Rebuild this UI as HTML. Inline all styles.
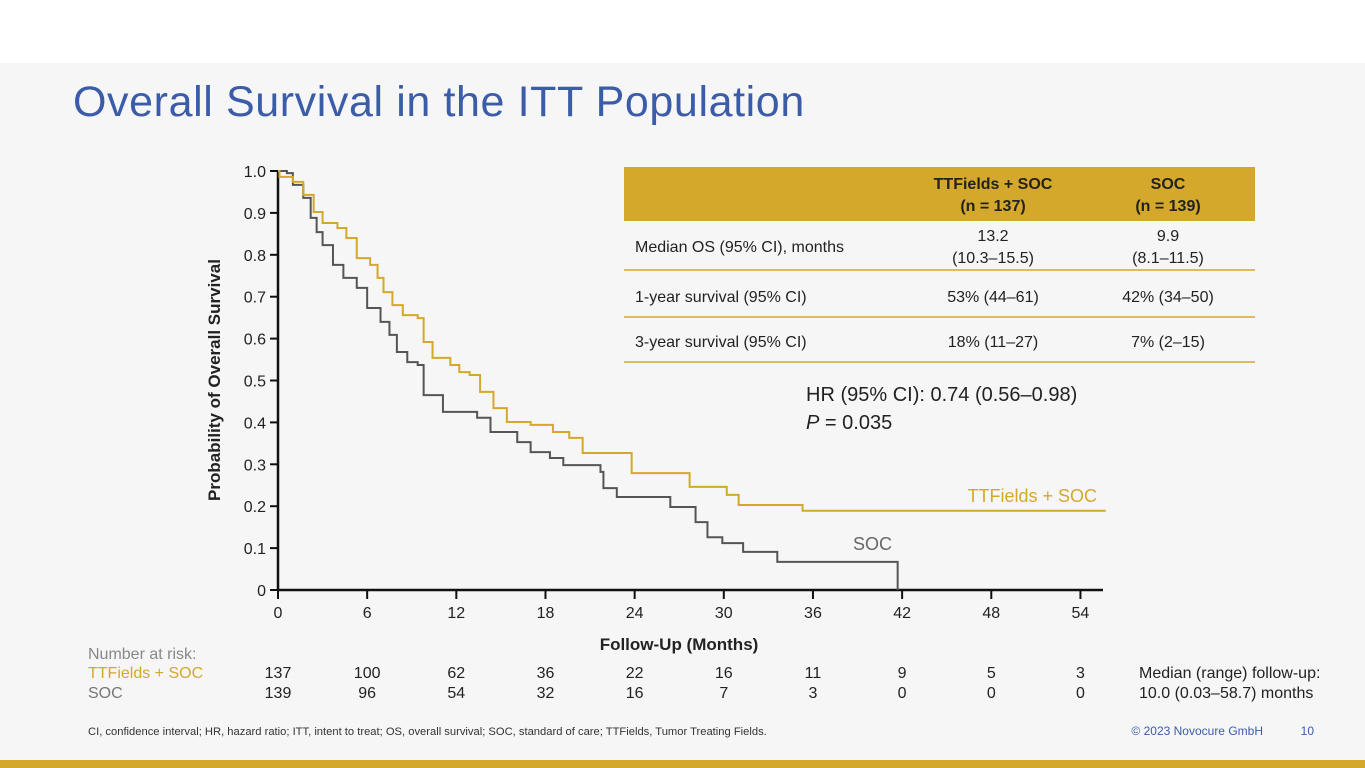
<!DOCTYPE html>
<html><head><meta charset="utf-8"><style>
body{margin:0;width:1365px;height:768px;overflow:hidden;background:#fff;font-family:"Liberation Sans",sans-serif;}
#bg{position:absolute;left:0;top:63px;width:1365px;height:697px;background:#f6f6f6;}
#bar{position:absolute;left:0;top:760px;width:1365px;height:8px;background:#d4a82a;}
h1{position:absolute;left:73px;top:78px;margin:0;font-weight:normal;font-size:43px;color:#3b5ca8;letter-spacing:0.6px;}
</style></head><body>
<div id="bg"></div>
<div id="bar"></div>
<h1>Overall Survival in the ITT Population</h1>
<svg id="chart" width="1365" height="768" style="position:absolute;left:0;top:0"></svg>
<script>
const xTicks=[0,6,12,18,24,30,36,42,48,54];
const yTicks=[0,0.1,0.2,0.3,0.4,0.5,0.6,0.7,0.8,0.9,1.0];
const yTickLabels=["0","0.1","0.2","0.3","0.4","0.5","0.6","0.7","0.8","0.9","1.0"];
const ttTimes=[0,0.1,1.0,1.7,2.4,3.0,4.0,4.6,5.3,6.2,6.7,7.1,7.7,8.4,9.4,9.8,10.4,11.6,12.2,12.9,13.6,14.5,15.4,17.0,18.5,19.6,20.5,23.8,27.7,30.2,31.0,35.3];
const ttSurv=[1.0,0.986,0.974,0.943,0.902,0.876,0.864,0.840,0.792,0.776,0.745,0.711,0.680,0.656,0.649,0.592,0.554,0.537,0.520,0.513,0.473,0.434,0.401,0.394,0.377,0.363,0.327,0.279,0.246,0.227,0.203,0.189];
const ttEnd=55.7;
const socTimes=[0,0.6,1.0,1.7,2.2,2.6,3.0,3.7,4.4,5.3,6.0,6.9,7.5,8.0,8.7,9.4,9.8,11.1,13.4,14.3,16.1,17.0,18.3,19.2,21.7,21.9,22.8,26.4,28.1,28.9,29.9,31.3,33.6,41.7];
const socSurv=[1.0,0.995,0.967,0.936,0.888,0.854,0.823,0.776,0.745,0.721,0.673,0.640,0.609,0.568,0.544,0.537,0.465,0.425,0.411,0.377,0.353,0.329,0.315,0.298,0.282,0.243,0.222,0.198,0.162,0.126,0.112,0.091,0.067,0.0];
const socEnd=41.7;
const riskTT=[137,100,62,36,22,16,11,9,5,3];
const riskSOC=[139,96,54,32,16,7,3,0,0,0];
const NS="http://www.w3.org/2000/svg";
const svg=document.getElementById('chart');
const X=m=>278+m*14.86;
const Y=p=>590-p*419;
function el(tag,attrs,text){const e=document.createElementNS(NS,tag);for(const k in attrs)e.setAttribute(k,attrs[k]);if(text!==undefined)e.textContent=text;svg.appendChild(e);return e;}
function txt(x,y,s,size,fill,anchor,name,extra){const t=el('text',Object.assign({x:x,y:y,'font-size':size,fill:fill,'text-anchor':anchor||'start','font-family':'Liberation Sans, sans-serif'},extra||{}),s);


return t;}
let a=el('line',{x1:278,y1:170,x2:278,y2:591,stroke:'#111','stroke-width':2.5});


a=el('line',{x1:277,y1:590,x2:1103,y2:590,stroke:'#111','stroke-width':2.5});


yTicks.forEach((v,i)=>{const l=el('line',{x1:270,y1:Y(v),x2:278,y2:Y(v),stroke:'#111','stroke-width':2});


txt(266,Y(v)+6,yTickLabels[i],16,'#222','end','y-tick-label');});
xTicks.forEach(v=>{const l=el('line',{x1:X(v),y1:590,x2:X(v),y2:599,stroke:'#111','stroke-width':2});


txt(X(v),618,String(v),16,'#222','middle','x-tick-label');});
txt(679,650,'Follow-Up (Months)',17,'#222','middle','x-axis-title',{'font-weight':'bold'});
txt(220,380,'Probability of Overall Survival',17,'#222','middle','y-axis-title',{'font-weight':'bold',transform:'rotate(-90 220 380)'});
function stepPath(t,s,end){let d='M'+X(t[0])+' '+Y(s[0]);for(let i=1;i<t.length;i++){d+=' H'+X(t[i])+' V'+Y(s[i]);}d+=' H'+X(end);return d;}
let p=el('path',{d:stepPath(socTimes,socSurv,socEnd),fill:'none',stroke:'#555','stroke-width':2});


p=el('path',{d:stepPath(ttTimes,ttSurv,ttEnd),fill:'none',stroke:'#d4a82a','stroke-width':2});


txt(1097,502,'TTFields + SOC',18,'#d4a82a','end','ttfields-curve-label');
txt(892,550,'SOC',18,'#666','end','soc-curve-label');
let r=el('rect',{x:624,y:167,width:631,height:54,fill:'#d4a82a'});


txt(993,189,'TTFields + SOC',16,'#222','middle','col-header-ttfields',{'font-weight':'bold'});
txt(993,211,'(n = 137)',16,'#222','middle','col-header-ttfields-n',{'font-weight':'bold'});
txt(1168,189,'SOC',16,'#222','middle','col-header-soc',{'font-weight':'bold'});
txt(1168,211,'(n = 139)',16,'#222','middle','col-header-soc-n',{'font-weight':'bold'});
[270,317,362].forEach(y=>{const l=el('line',{x1:624,y1:y,x2:1255,y2:y,stroke:'#d4a82a','stroke-width':1.5});

});
txt(635,252,'Median OS (95% CI), months',16,'#222','start','row-label-median');
txt(993,241,'13.2',16,'#222','middle','cell');txt(993,263,'(10.3–15.5)',16,'#222','middle','cell');
txt(1168,241,'9.9',16,'#222','middle','cell');txt(1168,263,'(8.1–11.5)',16,'#222','middle','cell');
txt(635,302,'1-year survival (95% CI)',16,'#222','start','row-label-1yr');
txt(993,302,'53% (44–61)',16,'#222','middle','cell');txt(1168,302,'42% (34–50)',16,'#222','middle','cell');
txt(635,347,'3-year survival (95% CI)',16,'#222','start','row-label-3yr');
txt(993,347,'18% (11–27)',16,'#222','middle','cell');txt(1168,347,'7% (2–15)',16,'#222','middle','cell');
txt(806,401,'HR (95% CI): 0.74 (0.56–0.98)',20,'#222','start','hazard-ratio');
const pv=txt(806,429,'',20,'#222','start','p-value');
const ti=document.createElementNS(NS,'tspan');ti.setAttribute('font-style','italic');ti.textContent='P';pv.appendChild(ti);
const t2=document.createElementNS(NS,'tspan');t2.textContent=' = 0.035';pv.appendChild(t2);
txt(88,659,'Number at risk:',16,'#888','start','risk-table-title');
txt(88,678,'TTFields + SOC',16,'#d4a82a','start','risk-label-ttfields');
txt(88,698,'SOC',16,'#777','start','risk-label-soc');
xTicks.forEach((v,i)=>{txt(X(v),678,String(riskTT[i]),16,'#222','middle','risk-ttfields');txt(X(v),698,String(riskSOC[i]),16,'#222','middle','risk-soc');});
txt(1139,678,'Median (range) follow-up:',16,'#222','start','follow-up-note');
txt(1139,698,'10.0 (0.03–58.7) months',16,'#222','start','follow-up-note');
txt(88,735,'CI, confidence interval; HR, hazard ratio; ITT, intent to treat; OS, overall survival; SOC, standard of care; TTFields, Tumor Treating Fields.',11.2,'#333','start','footnote');
txt(1263,735,'© 2023 Novocure GmbH',12,'#3b5ca8','end','copyright');
txt(1314,735,'10',12,'#3b5ca8','end','page-number');
</script>
</body></html>
